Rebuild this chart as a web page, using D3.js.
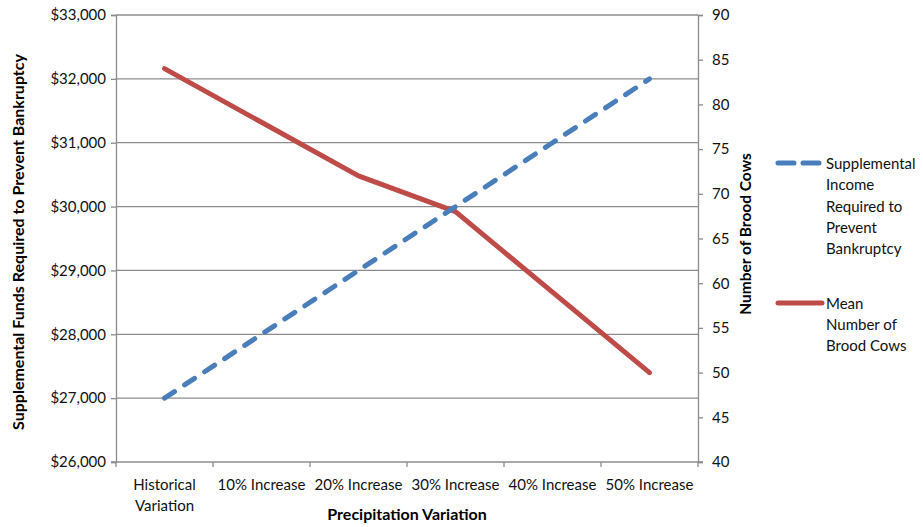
<!DOCTYPE html>
<html>
<head>
<meta charset="utf-8">
<script src="https://cdn.jsdelivr.net/npm/d3@7"></script>
<style>
  html, body { margin: 0; padding: 0; background: #fff; }
  svg { display: block; font-family: Lato, "Open Sans", sans-serif; }
</style>
</head>
<body>
<svg id="chart" width="923" height="527"></svg>
<script>
// Precipitation scenarios along the x axis
const categories = [
  ["Historical", "Variation"],
  ["10% Increase"],
  ["20% Increase"],
  ["30% Increase"],
  ["40% Increase"],
  ["50% Increase"]
];
// Supplemental income needed to avoid bankruptcy (left axis, $)
const supplementalIncome = [27000, 28000, 29000, 30000, 31000, 32000];
// Mean herd size (right axis, head)
const broodCows = [84, 78, 72, 68, 59, 50];

const leftTicks = [26000, 27000, 28000, 29000, 30000, 31000, 32000, 33000];
const rightTicks = [40, 45, 50, 55, 60, 65, 70, 75, 80, 85, 90];

const legendIncome = ["Supplemental", "Income", "Required to", "Prevent", "Bankruptcy"];
const legendCows = ["Mean", "Number of", "Brood Cows"];

const svg = d3.select("#chart");
const m = { left: 116, right: 698, top: 15, bottom: 462 };
const gridColor = "#8c8c8c";
const blue = "#4a7ebb";
const red = "#be4b48";

const keys = categories.map((c, i) => i);
const x = d3.scaleBand().domain(keys).range([m.left, m.right]);
const yL = d3.scaleLinear().domain([26000, 33000]).range([m.bottom, m.top]);
const yR = d3.scaleLinear().domain([40, 90]).range([m.bottom, m.top]);

// horizontal gridlines from the left axis
svg.append("g")
  .selectAll("line")
  .data(leftTicks.slice(1))
  .join("line")
  .attr("x1", m.left).attr("x2", m.right)
  .attr("y1", d => yL(d)).attr("y2", d => yL(d))
  .attr("stroke", gridColor).attr("stroke-width", 1.3);

// left axis
const fmt = d => "$" + d3.format(",")(d);
const gL = svg.append("g")
  .attr("transform", `translate(${m.left},0)`)
  .call(d3.axisLeft(yL).tickValues(leftTicks).tickFormat(fmt).tickSize(5).tickPadding(5));
// right axis
const gR = svg.append("g")
  .attr("transform", `translate(${m.right},0)`)
  .call(d3.axisRight(yR).tickValues(rightTicks).tickSize(5).tickPadding(9));
// bottom axis: ticks at band boundaries
const bounds = keys.map(k => x(k)).concat([m.right]);
const gB = svg.append("g");
gB.append("line")
  .attr("x1", m.left - 5).attr("x2", m.right + 5)
  .attr("y1", m.bottom).attr("y2", m.bottom);
gB.selectAll("line.tk")
  .data(bounds)
  .join("line").attr("class", "tk")
  .attr("x1", d => d).attr("x2", d => d)
  .attr("y1", m.bottom).attr("y2", m.bottom + 5);
gB.selectAll("line").attr("stroke", gridColor).attr("stroke-width", 1.3);

[gL, gR].forEach(g => {
  g.selectAll("path.domain").attr("stroke", gridColor).attr("stroke-width", 1.3);
  g.selectAll(".tick line").attr("stroke", gridColor).attr("stroke-width", 1.3);
  g.selectAll(".tick text").attr("fill", "#111").style("font-size", "15px")
    .style("font-family", "Lato, 'Open Sans', sans-serif");
});

// category labels
const catText = svg.append("g").selectAll("text")
  .data(categories)
  .join("text")
  .attr("x", (d, i) => x(i) + x.bandwidth() / 2)
  .attr("y", 490)
  .attr("text-anchor", "middle")
  .attr("fill", "#111")
  .style("font-size", "15px");
catText.selectAll("tspan")
  .data(d => d)
  .join("tspan")
  .attr("x", function () { return this.parentNode.getAttribute("x"); })
  .attr("dy", (d, i) => i === 0 ? 0 : 21)
  .text(d => d);

// axis titles
svg.append("text")
  .attr("transform", "translate(24,242) rotate(-90)")
  .attr("text-anchor", "middle")
  .style("font-size", "16px").style("font-weight", "bold")
  .text("Supplemental Funds Required to Prevent Bankruptcy");
svg.append("text")
  .attr("transform", "translate(751,234) rotate(-90)")
  .attr("text-anchor", "middle")
  .style("font-size", "15.5px").style("font-weight", "bold")
  .text("Number of Brood Cows");
svg.append("text")
  .attr("x", 407).attr("y", 520)
  .attr("text-anchor", "middle")
  .style("font-size", "16px").style("font-weight", "bold")
  .text("Precipitation Variation");

// series lines
const cx = i => x(i) + x.bandwidth() / 2;
const lineIncome = d3.line().x((d, i) => cx(i)).y(d => yL(d));
const lineCows = d3.line().x((d, i) => cx(i)).y(d => yR(d));

svg.append("path")
  .datum(broodCows)
  .attr("d", lineCows)
  .attr("fill", "none").attr("stroke", red)
  .attr("stroke-width", 5).attr("stroke-linecap", "round").attr("stroke-linejoin", "round");

svg.append("path")
  .datum(supplementalIncome)
  .attr("d", lineIncome)
  .attr("fill", "none").attr("stroke", blue)
  .attr("stroke-width", 5).attr("stroke-linecap", "round")
  .attr("stroke-dasharray", "12,12");

// legend
const lg = svg.append("g");
lg.append("line")
  .attr("x1", 778).attr("x2", 820).attr("y1", 163).attr("y2", 163)
  .attr("stroke", blue).attr("stroke-width", 5).attr("stroke-linecap", "round")
  .attr("stroke-dasharray", "16,9");
lg.append("line")
  .attr("x1", 778).attr("x2", 822).attr("y1", 303).attr("y2", 303)
  .attr("stroke", red).attr("stroke-width", 5).attr("stroke-linecap", "round");

function legendText(lines, y0, step) {
  const t = lg.append("text")
    .attr("x", 826).attr("y", y0)
    .attr("fill", "#111")
    .style("font-size", "15px");
  t.selectAll("tspan").data(lines).join("tspan")
    .attr("x", 826)
    .attr("dy", (d, i) => i === 0 ? 0 : step)
    .text(d => d);
}
legendText(legendIncome, 169, 21.3);
legendText(legendCows, 309, 21);
</script>
</body>
</html>
